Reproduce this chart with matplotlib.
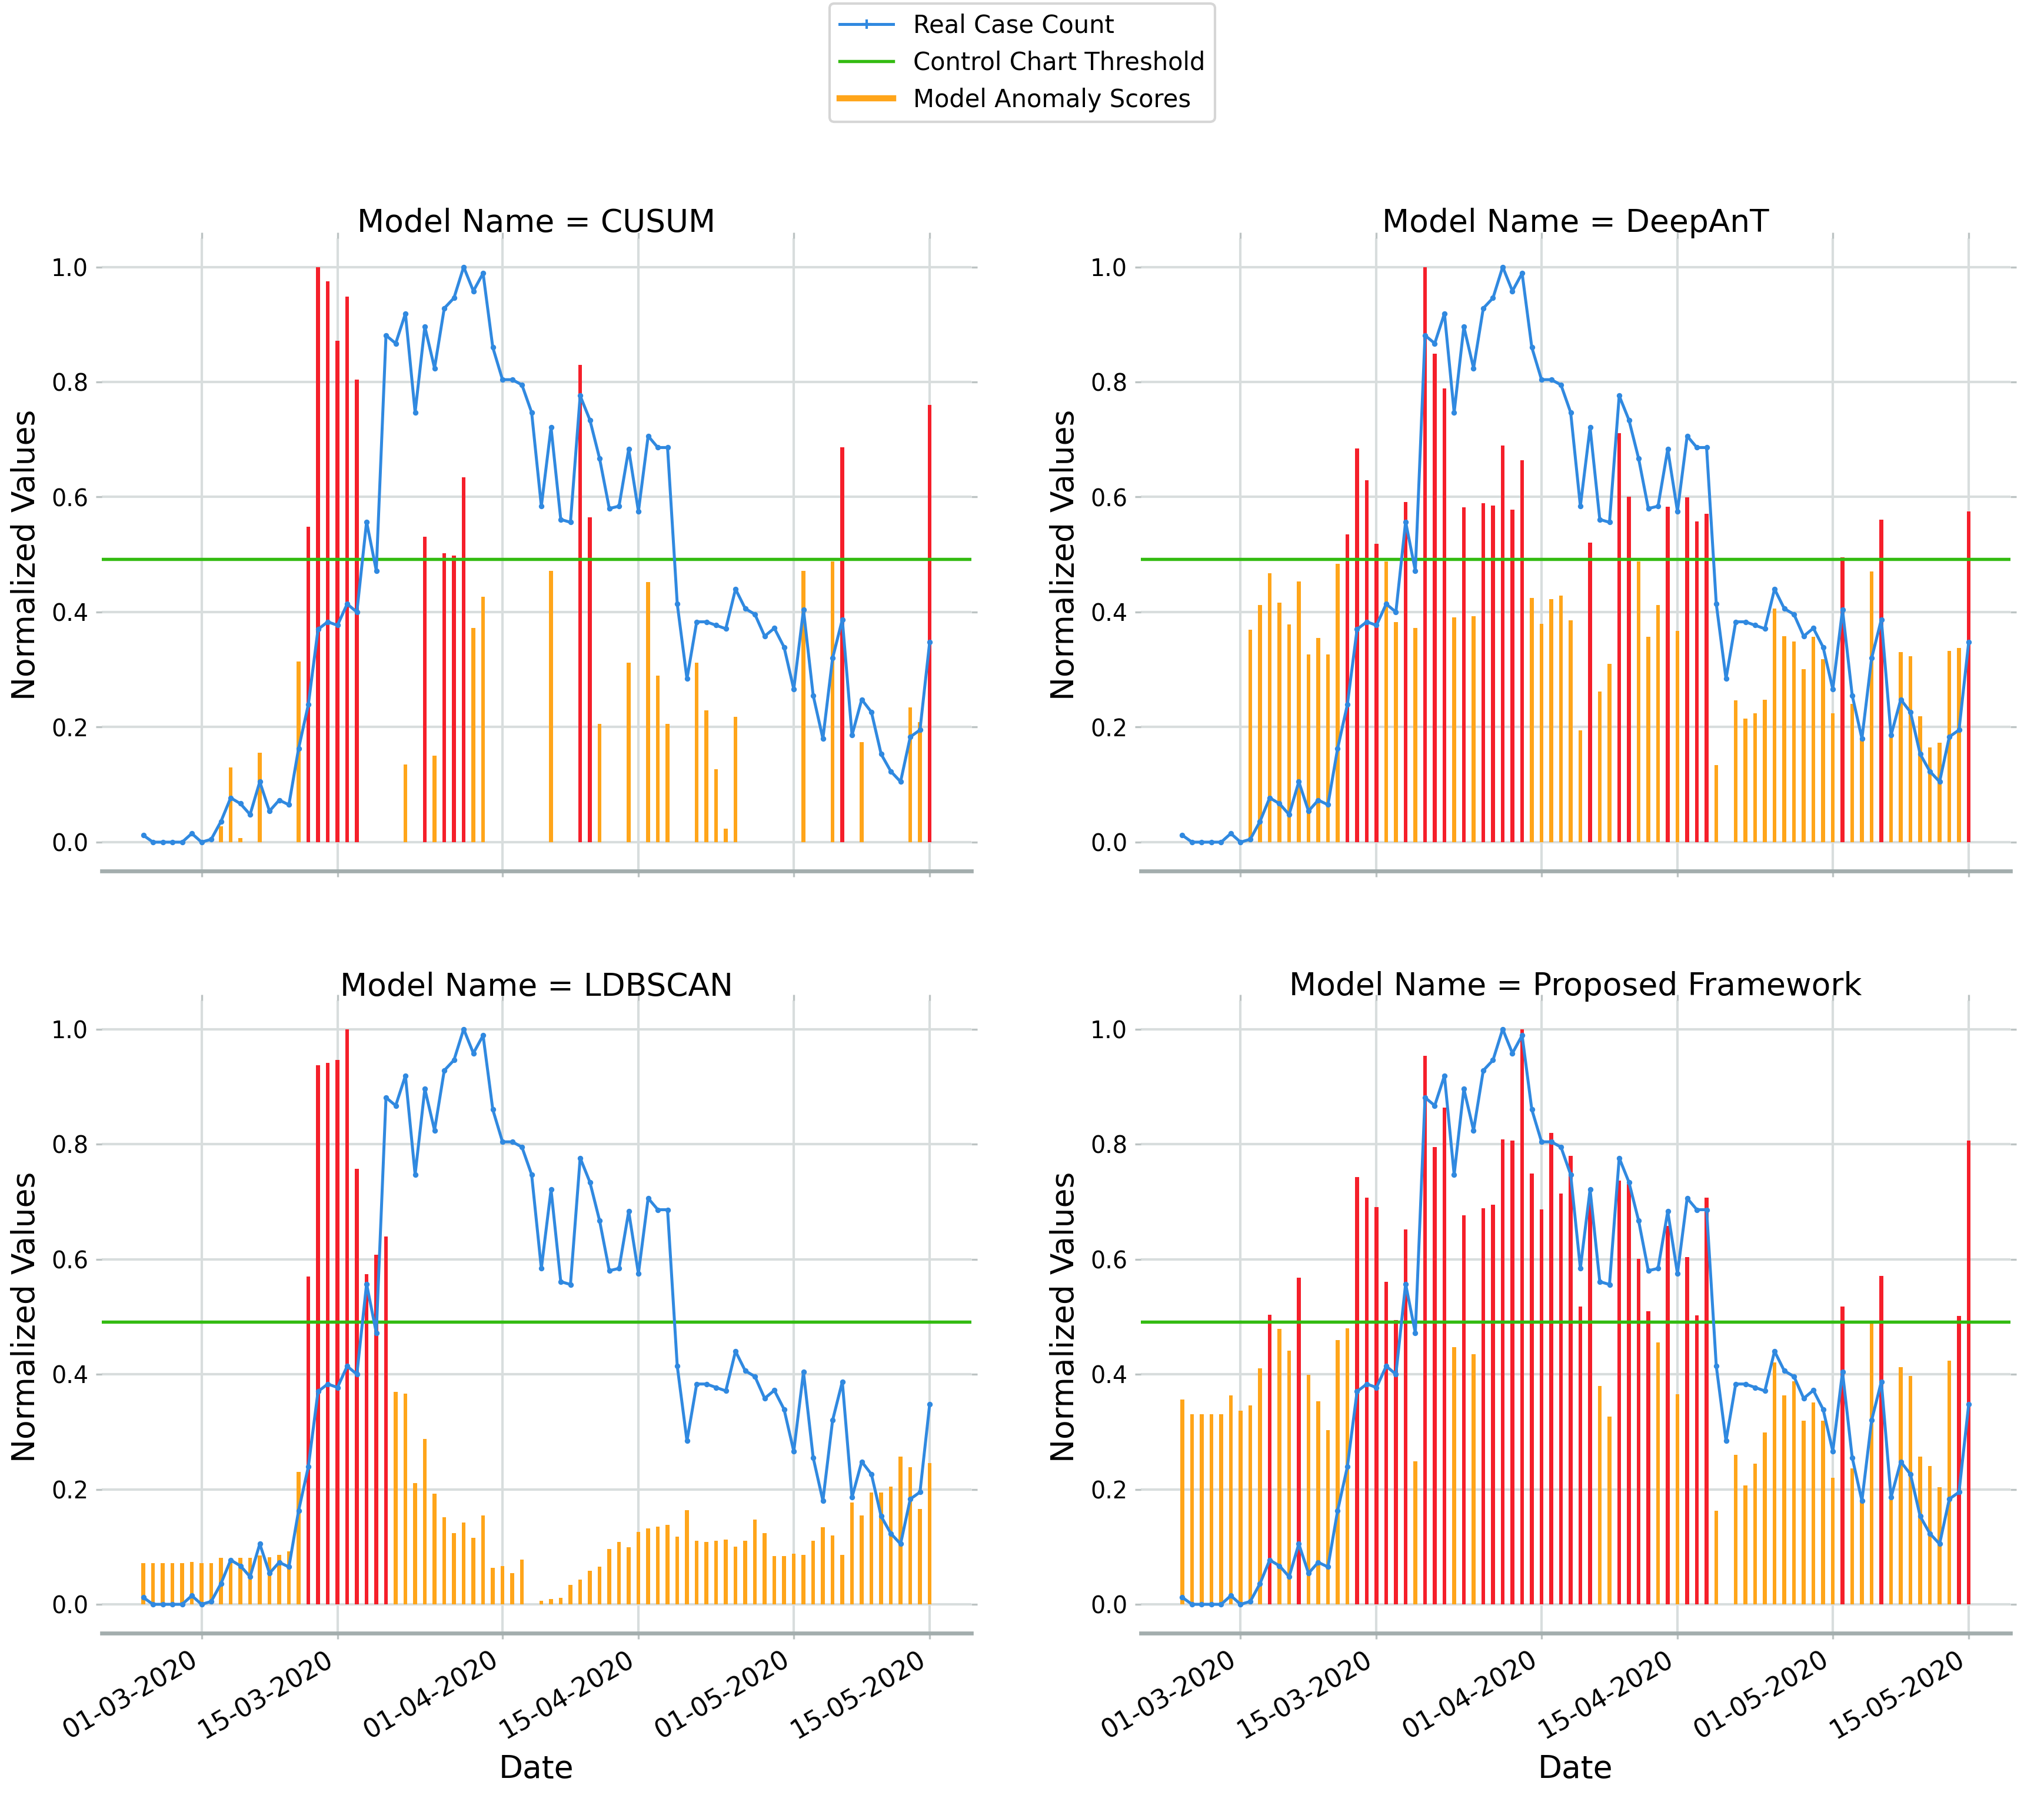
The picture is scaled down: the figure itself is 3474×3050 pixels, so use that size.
import pandas as pd
import matplotlib
matplotlib.use("Agg")
import matplotlib.pyplot as plt
import matplotlib.dates as mdates
from matplotlib.lines import Line2D

# daily values 24-02-2020 .. 15-05-2020 (82 days)
dates = pd.date_range("2020-02-24", "2020-05-15", freq="D")
threshold = 0.4916

real_case_count = [
    0.012, 0.0, 0.0, 0.0, 0.0, 0.015, 0.0, 0.005, 0.036, 0.077,
    0.067, 0.048, 0.105, 0.054, 0.073, 0.065, 0.163, 0.239, 0.370, 0.383,
    0.377, 0.414, 0.400, 0.557, 0.472, 0.881, 0.867, 0.919, 0.747, 0.896,
    0.824, 0.928, 0.946, 1.000, 0.958, 0.989, 0.860, 0.804, 0.804, 0.795,
    0.747, 0.584, 0.721, 0.561, 0.556, 0.776, 0.734, 0.667, 0.580, 0.584,
    0.683, 0.575, 0.706, 0.686, 0.686, 0.414, 0.284, 0.383, 0.383, 0.377,
    0.371, 0.440, 0.406, 0.396, 0.358, 0.372, 0.339, 0.266, 0.404, 0.255,
    0.180, 0.320, 0.387, 0.186, 0.248, 0.226, 0.153, 0.123, 0.105, 0.183,
    0.195, 0.348,
]

cusum = [
    0, 0, 0, 0, 0, 0, 0, 0, 0.028, 0.130,
    0.007, 0, 0.155, 0, 0, 0, 0.314, 0.548, 1.000, 0.975,
    0.872, 0.948, 0.804, 0, 0, 0, 0, 0.135, 0, 0.531,
    0.150, 0.502, 0.498, 0.634, 0.372, 0.427, 0, 0, 0, 0,
    0, 0, 0.472, 0, 0, 0.830, 0.565, 0.206, 0, 0,
    0.312, 0, 0.452, 0.289, 0.206, 0, 0, 0.312, 0.229, 0.127,
    0.023, 0.218, 0, 0, 0, 0, 0, 0, 0.472, 0,
    0, 0.488, 0.686, 0, 0.174, 0, 0, 0, 0, 0.234,
    0.209, 0.760,
]

deepant = [
    0, 0, 0, 0, 0, 0, 0, 0.369, 0.412, 0.468,
    0.416, 0.378, 0.453, 0.326, 0.355, 0.326, 0.484, 0.535, 0.684, 0.629,
    0.519, 0.488, 0.383, 0.591, 0.372, 1.000, 0.849, 0.789, 0.391, 0.582,
    0.393, 0.589, 0.585, 0.690, 0.578, 0.664, 0.425, 0.380, 0.422, 0.429,
    0.386, 0.194, 0.521, 0.262, 0.310, 0.711, 0.601, 0.488, 0.357, 0.412,
    0.583, 0.367, 0.599, 0.558, 0.571, 0.134, 0, 0.247, 0.215, 0.224,
    0.248, 0.406, 0.358, 0.349, 0.301, 0.357, 0.318, 0.224, 0.495, 0.240,
    0.180, 0.471, 0.561, 0.182, 0.330, 0.323, 0.219, 0.165, 0.173, 0.332,
    0.338, 0.575,
]

ldbscan = [
    0.072, 0.072, 0.072, 0.072, 0.072, 0.074, 0.072, 0.072, 0.081, 0.080,
    0.081, 0.081, 0.085, 0.082, 0.086, 0.092, 0.230, 0.570, 0.937, 0.941,
    0.946, 1.000, 0.757, 0.574, 0.608, 0.639, 0.369, 0.366, 0.211, 0.287,
    0.192, 0.151, 0.124, 0.142, 0.116, 0.155, 0.063, 0.067, 0.054, 0.078,
    0, 0.006, 0.009, 0.011, 0.034, 0.043, 0.058, 0.065, 0.096, 0.108,
    0.099, 0.126, 0.132, 0.135, 0.138, 0.118, 0.164, 0.111, 0.108, 0.111,
    0.113, 0.100, 0.111, 0.147, 0.124, 0.084, 0.084, 0.088, 0.086, 0.111,
    0.134, 0.120, 0.086, 0.177, 0.155, 0.194, 0.194, 0.205, 0.257, 0.238,
    0.166, 0.246,
]

proposed = [
    0.356, 0.330, 0.330, 0.330, 0.330, 0.363, 0.337, 0.346, 0.410, 0.503,
    0.479, 0.441, 0.568, 0.399, 0.353, 0.303, 0.459, 0.480, 0.743, 0.707,
    0.691, 0.561, 0.494, 0.652, 0.249, 0.954, 0.795, 0.863, 0.447, 0.676,
    0.435, 0.689, 0.695, 0.808, 0.806, 1.000, 0.749, 0.687, 0.820, 0.714,
    0.780, 0.518, 0.700, 0.380, 0.326, 0.737, 0.730, 0.601, 0.510, 0.455,
    0.658, 0.365, 0.604, 0.502, 0.707, 0.163, 0, 0.260, 0.207, 0.245,
    0.299, 0.420, 0.363, 0.388, 0.319, 0.351, 0.319, 0.220, 0.518, 0.236,
    0.180, 0.488, 0.571, 0.182, 0.412, 0.397, 0.257, 0.240, 0.204, 0.424,
    0.501, 0.806,
]

model_names = ["CUSUM", "DeepAnT", "LDBSCAN", "Proposed Framework"]
model_scores = [cusum, deepant, ldbscan, proposed]

blue = "#3089e0"
green = "#33bb11"
orange = "#ffa51a"
red = "#f51f2a"
grid_c = "#d8dddd"

fig = plt.figure(figsize=(11.583, 10.167), dpi=300)
lefts = [0.0498, 0.558]
bottoms = [0.5148, 0.0902]
w, h = 0.4252, 0.3525

for k, (name, scores) in enumerate(zip(model_names, model_scores)):
    row, col = divmod(k, 2)
    ax = fig.add_axes([lefts[col], bottoms[row], w, h])
    ax.set_axisbelow(True)
    colors = [red if s > threshold else orange for s in scores]
    ax.bar(dates, scores, width=0.4, color=colors, linewidth=0, zorder=2)
    ax.axhline(threshold, color=green, lw=1.3, zorder=3)
    ax.plot(dates, real_case_count, color=blue, lw=1.2, marker=".", ms=2.5, zorder=4)

    ax.set_ylim(-0.05, 1.05)
    ax.set_yticks([0.0, 0.2, 0.4, 0.6, 0.8, 1.0])
    ax.xaxis.set_major_locator(mdates.DayLocator(bymonthday=[1, 15]))
    ax.xaxis.set_major_formatter(mdates.DateFormatter("%d-%m-%Y"))
    ax.grid(True, color=grid_c, lw=1.0)
    for s in ["top", "left", "right"]:
        ax.spines[s].set_visible(False)
    ax.spines["bottom"].set_color("#a3adad")
    ax.spines["bottom"].set_linewidth(1.6)
    ax.tick_params(top=True, right=True, length=2.5, width=0.8, color="#bcc3c3",
                   labelsize=9.5, pad=3)
    ax.set_title(f"Model Name = {name}", fontsize=12.8, pad=2)
    ax.set_ylabel("Normalized Values", fontsize=12.8)
    if row == 0:
        ax.tick_params(labelbottom=False)
    else:
        ax.set_xlabel("Date", fontsize=12.8)
        plt.setp(ax.get_xticklabels(), rotation=30, ha="right", fontsize=10.6)

handles = [
    Line2D([], [], color=blue, lw=1.2, marker="+", ms=4),
    Line2D([], [], color=green, lw=1.3),
    Line2D([], [], color=orange, lw=2.5),
]
labels = ["Real Case Count", "Control Chart Threshold", "Model Anomaly Scores"]
fig.legend(handles, labels, loc="upper center", bbox_to_anchor=(0.5, 1.0),
           borderaxespad=0.15, fontsize=10, edgecolor="#cccccc", handlelength=2.2)

fig.savefig("out.png", dpi=300)
